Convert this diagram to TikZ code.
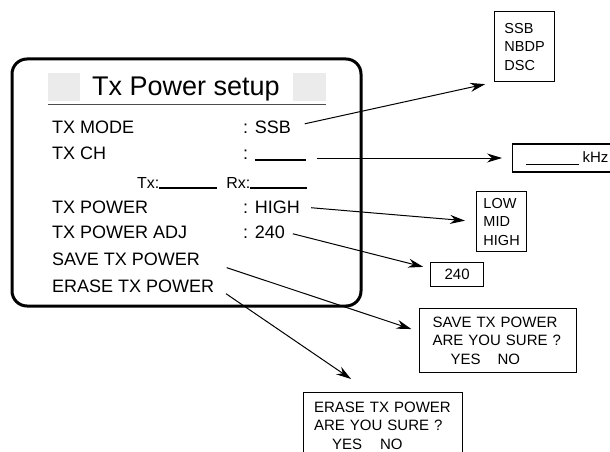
\documentclass[tikz,border=0pt]{standalone}
\usepackage{fontspec}
\setmainfont{Liberation Sans}
\usetikzlibrary{arrows.meta, positioning, calc}
\newcommand{\menufont}{\fontsize{18}{22}\selectfont}
\newcommand{\titlefont}{\fontsize{27}{32}\selectfont}
\newcommand{\boxfont}{\fontsize{15}{18.5}\selectfont}
\newcommand{\listfont}{\fontsize{14.5}{18.5}\selectfont}
\tikzstyle{menu} = [inner sep=0pt, anchor=base west, font=\menufont]
\tikzstyle{listbox} = [rectangle, draw, line width=1.2pt, align=left, font=\listfont, anchor=north west]
\tikzstyle{dialog} = [rectangle, draw, line width=1.2pt, align=left, font=\boxfont, anchor=north west, inner xsep=13pt]
\tikzstyle{arrow} = [line width=1pt, -{Stealth[length=15pt, width=9pt]}]

\begin{document}
\begin{tikzpicture}[x=1pt, y=-1pt]
    \path[use as bounding box, clip] (0,0) rectangle (610,452);

    % display frame
    \draw[line width=3pt, rounded corners=15pt] (12,59) rectangle (361,306);
    \fill[black!8] (48,73) rectangle (80,101);
    \fill[black!8] (293,73) rectangle (326,101);
    \draw[line width=0.8pt, black!70] (48,104) -- (326,104);
    \node (title) [font=\titlefont, inner sep=0pt, anchor=base] at (186,95) {Tx Power setup};

    % menu items
    \node (mode) [menu] at (52,133) {TX MODE};
    \node (ch) [menu] at (52,159) {TX CH};
    \node (txrx) [menu, font=\fontsize{16}{19}\selectfont] at (137,188) {Tx:\rule[-0.5pt]{58pt}{1.2pt}\hspace{9pt}Rx:\rule[-0.5pt]{57pt}{1.2pt}};
    \node (power) [menu] at (52,213) {TX POWER};
    \node (adj) [menu] at (52,238) {TX POWER ADJ};
    \node (save) [menu] at (52,265) {SAVE TX POWER};
    \node (erase) [menu] at (52,292) {ERASE TX POWER};

    \node (modeval) [menu] at (243,133) {: SSB};
    \node (chval) [menu] at (243,159) {: \rule[-1.5pt]{51pt}{1.2pt}};
    \node (powerval) [menu] at (243,213) {: HIGH};
    \node (adjval) [menu] at (243,238) {: 240};

    % selection boxes
    \node (modelist) [listbox, minimum width=60pt, minimum height=70pt] at (494,11) {SSB\\NBDP\\DSC};
    \node (freqbox) [listbox, anchor=west, font=\boxfont, minimum height=28pt, text width=90pt, inner xsep=13pt] at (512,158) {\rule[-2.5pt]{53pt}{0.8pt}\hspace{4pt}kHz};
    \node (powerlist) [listbox, minimum width=50pt, minimum height=60pt] at (476,191) {LOW\\MID\\HIGH};
    \node (adjbox) [listbox, font=\boxfont, align=center, minimum width=53pt, minimum height=24pt] at (430,262) {240};
    \node (savedlg) [dialog, text width=131pt, minimum height=64pt] at (419,308) {SAVE TX POWER\\ARE YOU SURE ?\\\hspace*{18pt}YES\hspace{17pt}NO};
    \node (erasedlg) [dialog, text width=138pt, inner xsep=10.5pt, inner ysep=9pt] at (303,392) {ERASE TX POWER\\ARE YOU SURE ?\\\hspace*{18pt}YES\hspace{18pt}NO};

    % connectors
    \draw[arrow, shorten <=14pt, shorten >=9pt] (modeval.east) -- (modelist.south west);
    \draw[arrow, shorten <=11pt, shorten >=10pt] (chval.east |- freqbox.west) -- (freqbox.west);
    \draw[arrow, shorten <=11pt, shorten >=11pt] (powerval.east) -- (powerlist.west);
    \draw[arrow, shorten <=8pt, shorten >=7pt] (adjval.east) -- ([yshift=6pt]adjbox.west);
    \draw[arrow, shorten <=28pt, shorten >=8pt] (save.east) -- ([yshift=9pt]savedlg.west);
    \draw[arrow, shorten <=14pt, shorten >=23pt] (erase.east) -- ([xshift=-13pt]erasedlg.north);
\end{tikzpicture}
\end{document}
